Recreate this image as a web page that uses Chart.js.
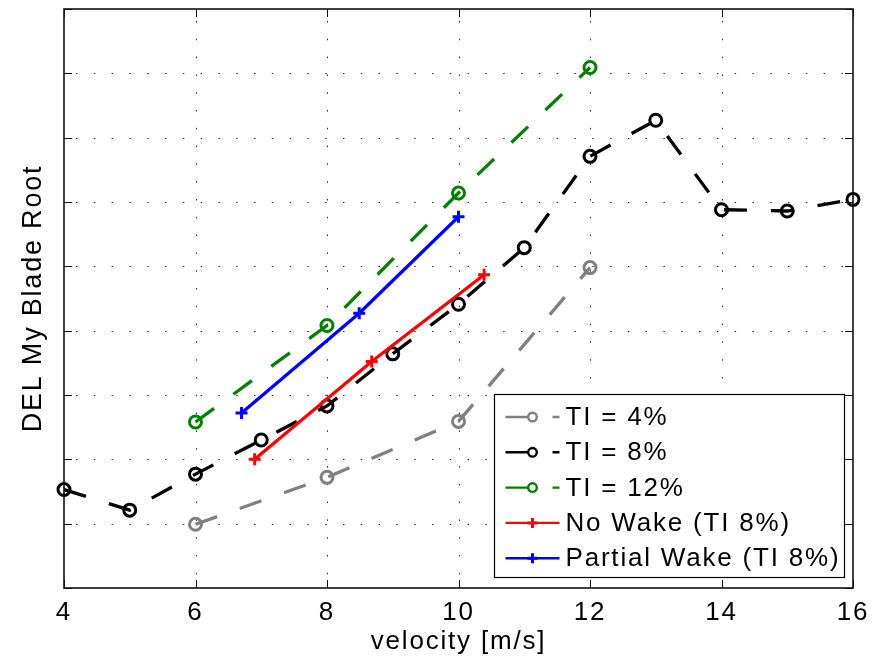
<!DOCTYPE html>
<html>
<head>
<meta charset="utf-8">
<title>DEL My Blade Root</title>
<script src="https://cdn.jsdelivr.net/npm/chart.js@4"></script>
<style>
  body { margin: 0; background: #fff; }
  #wrap { width: 885px; height: 658px; }
</style>
</head>
<body>
<div id="wrap"><canvas id="grafico" width="885" height="658"></canvas></div>
<script>
// dados (eixo y sem rótulos, unidades de grade)
const velTI8 = [4, 5, 6, 7, 8, 9, 10, 11, 12, 13, 14, 15, 16];
const delTI8 = [1.53, 1.21, 1.77, 2.30, 2.83, 3.64, 4.41, 5.29, 6.71, 7.27, 5.88, 5.86, 6.04];
const velTI4 = [6, 8, 10, 12];
const delTI4 = [0.99, 1.72, 2.59, 4.98];
const velTI12 = [6, 8, 10, 12];
const delTI12 = [2.58, 4.08, 6.14, 8.09];
const velNoWake = [6.9, 8.68, 10.39];
const delNoWake = [2.0, 3.52, 4.87];
const velPartial = [6.7, 8.49, 10.0];
const delPartial = [2.72, 4.27, 5.77];

const xTicks = [4, 6, 8, 10, 12, 14, 16];
const yTicks = [0, 1, 2, 3, 4, 5, 6, 7, 8, 9];
const labels = ["TI = 4%", "TI = 8%", "TI = 12%", "No Wake (TI 8%)", "Partial Wake (TI 8%)"];

const FONTE = '"Liberation Sans", Arial, Helvetica, sans-serif';
const tracejado = [23, 24];

function pontos(xs, ys) {
    return xs.map((x, i) => ({ x, y: ys[i] }));
}

function serie(label, xs, ys, cor, estilo, dash, ordem) {
    return {
        label,
        data: pontos(xs, ys),
        borderColor: cor,
        borderWidth: 3.3,
        borderDash: dash,
        pointStyle: estilo,
        pointRadius: 6,
        pointBorderWidth: 3,
        pointBorderColor: cor,
        pointBackgroundColor: "rgba(0,0,0,0)",
        showLine: true,
        fill: false,
        tension: 0,
        clip: false,
        order: ordem
    };
}

const datasets = [
    serie(labels[0], velTI4, delTI4, "#808080", "circle", tracejado, 5),
    serie(labels[1], velTI8, delTI8, "#000000", "circle", tracejado, 4),
    serie(labels[2], velTI12, delTI12, "#008000", "circle", tracejado, 3),
    serie(labels[3], velNoWake, delNoWake, "#ff0000", "cross", [], 2),
    serie(labels[4], velPartial, delPartial, "#0000ff", "cross", [], 1)
];

// grade pontilhada, moldura, marcas e legenda no estilo MATLAB
const moldura = {
    id: "moldura",
    beforeDraw(chart) {
        chart.ctx.letterSpacing = "1.8px";
    },
    beforeDatasetsDraw(chart) {
        const { ctx, chartArea: a, scales: { x, y } } = chart;
        ctx.save();
        ctx.strokeStyle = "rgba(0,0,0,0.85)";
        ctx.lineWidth = 1;
        ctx.setLineDash([1.5, 16.3]);
        xTicks.slice(1, -1).forEach(v => {
            const px = Math.round(x.getPixelForValue(v)) + 0.5;
            ctx.beginPath();
            ctx.moveTo(px, a.top + 12);
            ctx.lineTo(px, a.bottom);
            ctx.stroke();
        });
        yTicks.slice(1, -1).forEach(v => {
            const py = Math.round(y.getPixelForValue(v)) + 0.5;
            ctx.beginPath();
            ctx.moveTo(a.left + 12, py);
            ctx.lineTo(a.right, py);
            ctx.stroke();
        });
        ctx.restore();
    },
    afterDraw(chart) {
        const { ctx, chartArea: a, scales: { x, y } } = chart;
        ctx.save();
        ctx.setLineDash([]);
        ctx.strokeStyle = "#111";
        ctx.lineWidth = 1.6;
        ctx.strokeRect(a.left, a.top, a.right - a.left, a.bottom - a.top);
        ctx.lineWidth = 1;
        const tl = 8;
        xTicks.forEach(v => {
            const px = Math.round(x.getPixelForValue(v)) + 0.5;
            ctx.beginPath();
            ctx.moveTo(px, a.bottom); ctx.lineTo(px, a.bottom - tl);
            ctx.moveTo(px, a.top); ctx.lineTo(px, a.top + tl);
            ctx.stroke();
        });
        yTicks.forEach(v => {
            const py = Math.round(y.getPixelForValue(v)) + 0.5;
            ctx.beginPath();
            ctx.moveTo(a.left, py); ctx.lineTo(a.left + tl, py);
            ctx.moveTo(a.right, py); ctx.lineTo(a.right - tl, py);
            ctx.stroke();
        });

        // legenda
        const lw = 350, lh = 183;
        const lx = Math.round(a.right - 9 - lw) + 0.5;
        const ly = Math.round(a.bottom - 11 - lh) + 0.5;
        ctx.fillStyle = "#fff";
        ctx.fillRect(lx, ly, lw, lh);
        ctx.strokeStyle = "#000";
        ctx.lineWidth = 1.2;
        ctx.strokeRect(lx, ly, lw, lh);

        ctx.font = "26px " + FONTE;
        ctx.textBaseline = "middle";
        ctx.textAlign = "left";
        datasets.forEach((ds, i) => {
            const yy = ly + 22.5 + i * 35.3;
            const x0 = lx + 11, x1 = lx + 65, xm = lx + 38;
            ctx.strokeStyle = ds.borderColor;
            ctx.lineWidth = 2.4;
            ctx.setLineDash(ds.borderDash);
            ctx.beginPath();
            ctx.moveTo(x0, yy); ctx.lineTo(x1, yy);
            ctx.stroke();
            ctx.setLineDash([]);
            ctx.beginPath();
            if (ds.pointStyle === "circle") {
                ctx.lineWidth = 2.4;
                ctx.fillStyle = "#fff";
                ctx.arc(xm, yy, 4.3, 0, Math.PI * 2);
                ctx.fill();
            } else {
                ctx.lineWidth = 3;
                ctx.moveTo(xm - 5, yy); ctx.lineTo(xm + 5, yy);
                ctx.moveTo(xm, yy - 5); ctx.lineTo(xm, yy + 5);
            }
            ctx.stroke();
            ctx.fillStyle = "#000";
            ctx.fillText(ds.label, lx + 71, yy + 1);
        });
        ctx.restore();
    }
};

new Chart(document.getElementById("grafico"), {
    type: "scatter",
    data: { datasets },
    options: {
        responsive: false,
        animation: false,
        layout: { padding: { top: 6, right: 32, left: 0, bottom: 0 } },
        plugins: { legend: { display: false }, tooltip: { enabled: false } },
        scales: {
            x: {
                type: "linear",
                min: 4,
                max: 16,
                afterFit: s => { s.height = 70; },
                afterBuildTicks: s => { s.ticks = xTicks.map(v => ({ value: v })); },
                grid: { display: false },
                border: { display: false },
                ticks: { color: "#000", padding: 1, font: { family: FONTE, size: 26 } },
                title: {
                    display: true,
                    text: "velocity [m/s]",
                    color: "#000",
                    padding: { top: 0, bottom: 1 },
                    font: { family: FONTE, size: 26 }
                }
            },
            y: {
                type: "linear",
                min: 0,
                max: 9,
                afterFit: s => { s.width = 64; },
                afterBuildTicks: s => { s.ticks = yTicks.map(v => ({ value: v })); },
                grid: { display: false },
                border: { display: false },
                ticks: { display: false },
                title: {
                    display: true,
                    text: "DEL My Blade Root",
                    color: "#000",
                    padding: { top: 17, bottom: 0 },
                    font: { family: FONTE, size: 27 }
                }
            }
        }
    },
    plugins: [moldura]
});
</script>
</body>
</html>
